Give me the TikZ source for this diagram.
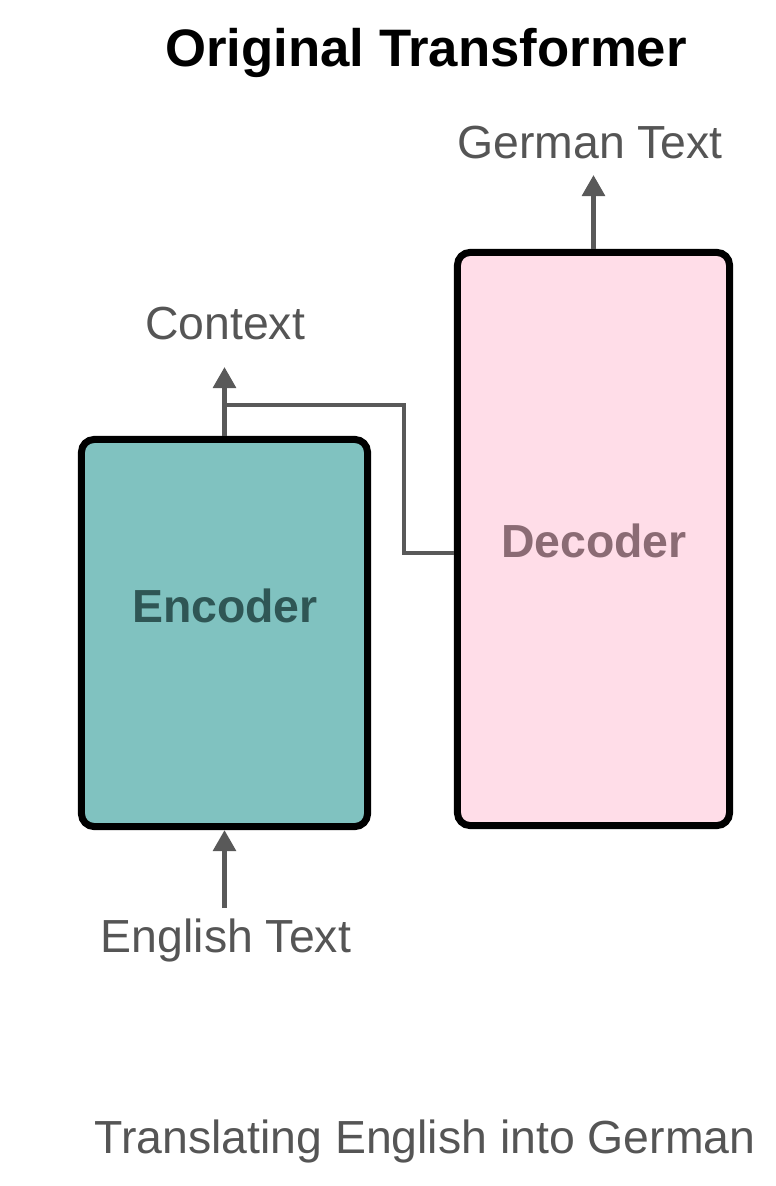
\documentclass[tikz,border=0pt]{standalone}
\usepackage{fontspec}
\setmainfont{Liberation Sans}
\usetikzlibrary{arrows.meta}

\definecolor{enccol}{HTML}{80C2C0}
\definecolor{enctxt}{HTML}{2F5655}
\definecolor{deccol}{HTML}{FFDDE8}
\definecolor{dectxt}{HTML}{8B6B74}
\definecolor{arrcol}{HTML}{595959}
\definecolor{lblcol}{HTML}{555555}

\begin{document}
\begin{tikzpicture}[
  x=0.025cm, y=-0.025cm,
  every node/.style={font=\fontsize{33}{36}\selectfont},
  blk/.style={draw=black, line width=5pt, rounded corners=9pt,
    inner sep=0pt, font=\fontsize{33}{36}\selectfont\bfseries},
  lbl/.style={text=lblcol, anchor=base, inner sep=0pt},
  wire/.style={draw=arrcol, line width=3.3pt},
  arr/.style={wire, -{Triangle[length=15pt, width=16pt]}},
]
\useasboundingbox (0,0) rectangle (776,1186);

%% ---- Title ----
\node[anchor=base, inner sep=0pt, font=\fontsize{37.5}{40}\selectfont\bfseries]
  (title) at (426,66) {Original Transformer};

%% ---- Encoder / Decoder ----
\node[blk, fill=enccol, text=enctxt, minimum width=7.15cm, minimum height=9.675cm]
  (enc) at (224.5,633) {};
\node[text=enctxt, anchor=base, inner sep=0pt, font=\fontsize{33}{36}\selectfont\bfseries]
  (enclbl) at (225,622) {Encoder};
\node[blk, fill=deccol, text=dectxt, minimum width=6.8cm, minimum height=14.325cm]
  (dec) at (593.5,539) {};
\node[text=dectxt, anchor=base, inner sep=0pt, font=\fontsize{33}{36}\selectfont\bfseries]
  (declbl) at (594,557) {Decoder};

%% ---- Labels ----
\node[lbl] (ctx) at (225,339) {Context};
\node[lbl] (ger) at (590,158) {German Text};
\node[lbl] (eng) at (226,952) {English Text};
\node[lbl] (cap) at (425,1153) {Translating English into German};

%% ---- Connectors ----
\coordinate (ctxtip) at (enc.north |- 0,367);
\coordinate (gertip) at (dec.north |- 0,175);
\coordinate (engtail) at (enc.south |- 0,908);
\draw[arr] (enc.north) -- (ctxtip);
\draw[arr] (dec.north) -- (gertip);
\draw[arr] (engtail) -- (enc.south);

\coordinate (split) at (enc.north |- 0,405);
\coordinate (bend) at (404,553);
\draw[wire] (split) -| (bend) -- (dec.west |- bend);

\end{tikzpicture}
\end{document}
